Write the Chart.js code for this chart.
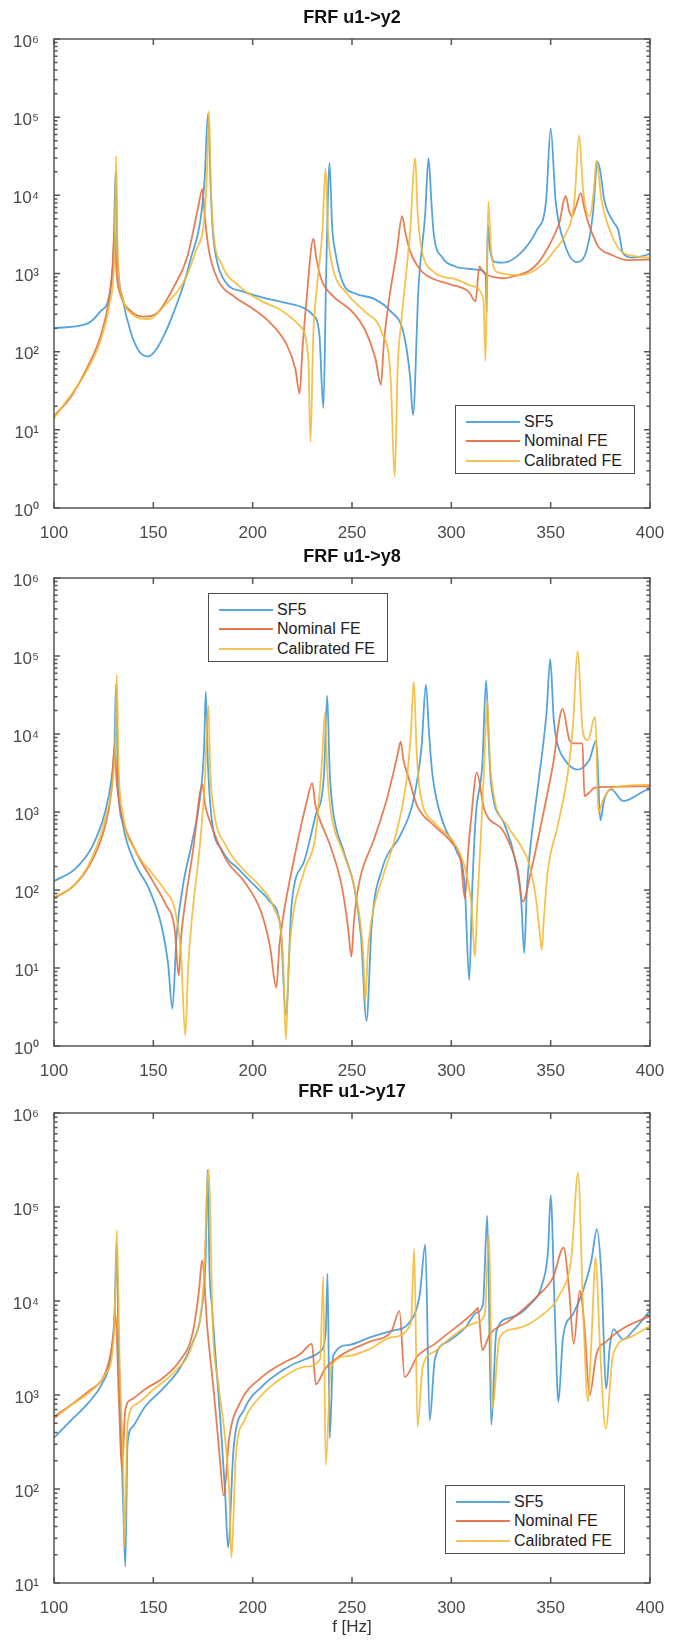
<!DOCTYPE html>
<html>
<head>
<meta charset="utf-8">
<script src="https://cdn.jsdelivr.net/npm/chart.js@4.4.1/dist/chart.umd.min.js"></script>
<style>
  html,body{margin:0;padding:0;background:#fff;}
  body{width:677px;height:1641px;position:relative;overflow:hidden;font-family:"Liberation Sans",Arial,Helvetica,sans-serif;}
  canvas{position:absolute;left:0;}
  .leg{position:absolute;width:178px;height:67px;border:1.5px solid #4d4d4d;background:#fff;z-index:5;}
  .leg .ln{position:absolute;left:10px;width:54px;height:2px;}
  .leg .tx{position:absolute;left:68px;font-size:16px;line-height:18px;color:#222;white-space:nowrap;}
</style>
</head>
<body>
<canvas id="c1" width="677" height="540" style="top:0px"></canvas>
<canvas id="c2" width="677" height="544" style="top:536px"></canvas>
<canvas id="c3" width="677" height="566" style="top:1075px"></canvas>
<script>
// ---------- text ----------
const titles = ['FRF u1->y2', 'FRF u1->y8', 'FRF u1->y17'];
const seriesNames = ['SF5', 'Nominal FE', 'Calibrated FE'];
const xAxisTitle = 'f [Hz]';
const xTickValues = [100, 150, 200, 250, 300, 350, 400];
const xTickLabels = ['100', '150', '200', '250', '300', '350', '400'];
const yTickValuesA = [1, 10, 100, 1000, 10000, 100000, 1000000];
const yTickLabelsA = ['10\u2070', '10\u00B9', '10\u00B2', '10\u00B3', '10\u2074', '10\u2075', '10\u2076'];
const yTickValuesB = [10, 100, 1000, 10000, 100000, 1000000];
const yTickLabelsB = ['10\u00B9', '10\u00B2', '10\u00B3', '10\u2074', '10\u2075', '10\u2076'];

// ---------- FRF u1->y2 ----------
const y2_f_sf5 = [100,117,123.5,128,130,131,132,134.4,138.7,143,147.5,151.8,156,160.5,165,169,173.6,175.8,177.5,179,180,182,186.6,195,204,215,226,230,233.5,235.6,237,238.7,240,241.5,245.4,252,260.7,269.4,275.9,279.2,280.7,283.5,286.8,288.5,290,291.1,295.5,302,308.6,315,317.3,317.8,318.3,319.5,322,326,334.6,343,347.7,350,352.5,357,363,368,371.2,373.6,375,377,381.5,384,386.5,391,399,400];
const y2_m_sf5 = [200,230,330,550,2000,20000,1600,500,175,100,87,110,175,330,690,1600,4600,16000,110000,10000,3300,1450,760,590,500,430,360,300,175,19,1000,26000,4000,1950,760,550,480,330,175,49,15.5,690,5600,30000,8000,3300,1600,1230,1150,1100,950,320,4200,2000,1400,1380,1800,3600,8500,72000,8500,2400,1400,1950,5600,27000,20000,8700,4600,3600,1800,1600,1750,1800];
const y2_f_nom = [100,108.3,117,123.5,127.9,129.5,130.5,131.5,133.3,138.7,145.3,151.8,160.5,167,172.5,174.7,176,178,182.3,191,199.7,208.4,217,221.5,223.6,225,226.9,230.6,232,234.5,241,249.8,256.3,261.7,264.6,266,268.3,272.6,275.2,277,279.2,284.6,291.1,299.8,308.6,312.2,314.1,316,318.6,322,326,332,339.6,344,348,351,354.3,357.5,359.3,360.5,362.5,365.2,366.8,369,371.5,374,380.5,389,399,400];
const y2_m_nom = [15,26,65,160,500,1250,3700,1000,550,330,280,310,690,1600,6900,12000,5000,1950,850,500,360,240,125,60,29,100,400,2800,1600,850,500,330,195,83,38,125,400,1950,5400,3200,1950,1100,850,720,590,440,1230,1050,950,890,870,930,1100,1400,2000,2800,4400,9800,6300,5400,6900,10700,7100,4400,3000,2200,1740,1480,1510,1510];
const y2_f_cal = [100,117,123.5,127.9,130.5,131.3,132,134.4,138.7,147.5,156,165,171.4,175.8,177,178,179,180.1,184.5,193.2,204,215,223.6,228,229.1,230.5,232.4,235,236.7,238,240,247.6,256.3,265,269.4,271.5,273,274.8,279.2,281.8,283,284.6,291.1,302,310.7,316.2,317.2,318.6,320,322.8,334.6,346.6,352,357,362,364.3,366.3,369.6,371.8,373,375.6,380.5,387,400];
const y2_m_cal = [14,60,140,400,2000,32000,2000,500,310,260,400,760,1950,5600,20000,120000,12600,3700,1300,690,450,330,215,83,7,160,690,3200,22000,3200,1300,550,330,175,49,2.5,63,240,3300,30000,6300,2400,1050,850,690,450,76,8300,2000,1050,950,1350,2000,3000,8700,59000,12000,5400,12000,28000,8700,3200,1800,1600];

// ---------- FRF u1->y8 ----------
const y8_f_sf5 = [100,110.5,119.2,125.7,129,130.5,131.2,132.2,134.5,141,147.6,154.1,157.4,159.6,161.7,165,169.4,173.7,175.5,176.4,177.5,179.2,184.7,193.4,202.1,208.7,214.1,216.7,219.6,226.1,231.6,235.9,237.5,238.8,240.3,245.7,251.2,254.5,257.3,259.9,265.4,274.1,280.7,285,287.2,288.8,290.5,295.9,302.5,306.8,309,310.5,312.3,315.6,317.5,319,319.9,326.5,331.9,335.2,336.7,338,339.6,343.9,347.9,349.8,351.5,353,357,363.5,369.5,373,375,377,380.5,386.5,398,400];
const y8_m_sf5 = [130,185,360,1000,2750,8000,43000,2500,720,215,107,35,11.5,3,26,117,400,1660,6300,35000,4000,890,320,180,107,71,32,2.5,65,240,890,3000,31000,3200,1100,320,107,26,2.1,35,195,490,1350,6800,43000,10000,3000,720,320,107,7,100,890,4100,49000,6300,2450,720,260,71,15.5,100,320,2450,18600,91000,16000,8300,4700,3500,4700,8300,780,1450,1950,1380,1900,1950];
const y8_f_nom = [100,110.5,119.2,125.7,129,130.5,131.5,133.4,141,149.7,156.3,160.7,162.8,164,166.1,170.5,173.3,174.8,176,178.1,186.8,195.6,204.3,208.7,211.9,213.5,215.2,221.7,227.2,230,231.5,233.7,239.2,244.7,247.9,249.7,251,253.4,261,267.6,273,274.5,276,278.5,282.8,291.6,300.3,304.7,306.8,308.5,310.1,312.8,316.5,326.5,333.3,336,340,345,351,356,359.5,362,366,367,369.5,372,380,400];
const y8_m_nom = [78,117,240,660,2000,7100,2500,1100,320,130,65,32,8,25,71,400,1660,2240,1260,810,240,130,52,19,5.6,20,43,320,1350,2350,1260,810,360,117,35,14,40,117,440,1480,5500,8000,4500,2750,1200,660,400,240,78,320,890,3200,1100,550,190,71,170,660,3800,21000,8300,7600,7600,1600,1780,2040,2100,2140];
const y8_f_cal = [100,110.5,119.2,125.7,129.7,131,131.6,132.5,134.5,141,149.7,156.3,160.7,163.9,166.1,167.5,169.4,173.7,175.9,177.7,178.7,180.3,186.8,195.6,204.3,210.8,215.2,216.7,218,219.1,226.1,231.6,234.8,236.4,237.6,239.2,245.7,251.2,255.6,256.7,258,259.9,265.4,271.9,277.4,279.6,281.1,282.5,284,291.6,300.3,306.8,310.1,311.9,313,314.5,316.6,318,319.8,328.3,335,339.3,342.6,344.4,345.5,346.5,348.5,353.5,358.7,361.3,363.5,366.3,368.8,371.5,372.5,374,376.5,381,400];
const y8_m_cal = [80,117,260,810,2750,10000,58000,4000,1000,320,160,95,58,15.5,1.35,10,43,440,2450,23000,3200,1100,360,180,107,58,15.5,1.2,10,26,180,490,4100,18600,3200,1100,295,107,15.5,3.7,16,43,145,490,2450,10000,47000,6300,2000,720,440,195,65,14,63,320,4100,27000,3200,660,370,210,78,30,17,40,170,660,3200,13500,115000,10200,8300,15000,16600,980,1450,2040,2240];

// ---------- FRF u1->y17 ----------
const y17_f_sf5 = [100,108.7,117.4,124,128.3,130.5,131.5,132.5,134.9,135.9,137,139.2,145.8,154.5,163.2,169.7,174.1,176.3,177.3,178.3,179.5,181.7,183.9,186.1,187.6,190.4,195.9,204.6,215.5,226.4,234,236.8,237.7,238.8,240.5,248.1,259,269.9,278.6,284.1,286.9,289.1,291.7,298.3,307,312.6,315.9,318.1,320.1,322.7,329.4,339.4,346.1,348.7,350,352,353.9,356.2,361.2,366.3,370.5,373.3,375.5,378,379.7,381.7,386.4,391.4,400];
const y17_m_sf5 = [350,540,830,1300,2400,7600,40000,3200,60,15,300,450,750,1150,1900,3600,7600,28000,250000,20000,8900,2000,490,93,24,270,710,1230,1860,2400,2900,4800,19500,350,2600,3400,4100,4800,5800,11700,40000,540,2400,3700,5200,7500,9100,81000,480,4800,6600,9100,16000,35000,133000,8500,850,4100,7200,12900,27000,58000,19500,1170,3200,5000,3900,4800,7900];
const y17_f_nom = [100,108.7,117.4,124.9,128.3,130.1,130.9,132.7,134.2,135.9,139.2,145.8,154.5,163.2,169.7,173,174.5,177.3,180.6,183.4,185.4,188.2,193.7,204.6,215.5,224.2,228.5,229.8,231.8,236.2,243.8,259,269.9,273.9,276.5,283,291.7,295.8,312.6,313.4,315.6,319.3,329.4,342.8,351.2,356.5,359.2,361.6,364.6,367.1,369.6,373,378,386.4,400];
const y17_m_nom = [590,790,1100,1550,2600,4800,7600,830,160,700,900,1150,1500,2300,4500,13000,27000,4800,1000,220,85,350,830,1550,2200,2750,3400,3500,1300,1860,2600,3700,4800,7800,1550,2600,3500,4100,8100,8500,3000,4400,6200,11000,17800,37000,13800,3500,12900,5100,1000,2700,3700,5100,6900];
const y17_f_cal = [100,108.7,117.4,126.1,129.9,131,131.6,133.1,134.9,135.5,137,141.4,150.1,161,169.7,175.2,177.8,180,182.8,186.1,188.2,189.3,191.5,195.9,204.6,215.5,226.4,234,235.5,236.8,239.4,248.1,259,269.9,279.7,281.3,283,285.6,291.7,295.8,312.6,316.8,319,320.6,324.3,332.7,346.1,354.5,360.4,363.8,366.3,368.8,370.5,372.7,374.7,377.7,381.4,389.8,400];
const y17_m_cal = [560,780,1050,1700,3700,16000,56000,2000,145,24,500,800,1150,1800,3500,14000,250000,4800,1300,350,93,18.6,220,540,1000,1550,2000,2400,18200,180,2000,2600,3100,4100,5800,36000,460,2000,2900,3500,5900,7200,50000,720,4100,5100,7200,11700,29000,230000,8500,850,3700,29000,3700,440,2700,4100,5400];

// ---------- style ----------
const colors = ['rgba(62,150,214,0.88)', 'rgba(228,108,62,0.88)', 'rgba(242,186,52,0.88)'];
const legendColors = ['#5aa6dc', '#e8784c', '#f4c45a'];
const FONT = '"Liberation Sans", Arial, Helvetica, sans-serif';
const AXIS_COLOR = '#555';

const panels = [
  { id: 'c1', title: titles[0], yVals: yTickValuesA, yLabs: yTickLabelsA,
    series: [[y2_f_sf5, y2_m_sf5], [y2_f_nom, y2_m_nom], [y2_f_cal, y2_m_cal]],
    titlePad: {top: 7.2, bottom: 10.2}, xH: 32, xTitle: false,
    legend: {left: 455, top: 405} },
  { id: 'c2', title: titles[1], yVals: yTickValuesA, yLabs: yTickLabelsA,
    series: [[y8_f_sf5, y8_m_sf5], [y8_f_nom, y8_m_nom], [y8_f_cal, y8_m_cal]],
    titlePad: {top: 10.2, bottom: 10.2}, xH: 34, xTitle: false,
    legend: {left: 208, top: 593} },
  { id: 'c3', title: titles[2], yVals: yTickValuesB, yLabs: yTickLabelsB,
    series: [[y17_f_sf5, y17_m_sf5], [y17_f_nom, y17_m_nom], [y17_f_cal, y17_m_cal]],
    titlePad: {top: 6.2, bottom: 10.2}, xH: 58, xTitle: true,
    legend: {left: 445, top: 1485} }
];

const matlabAxes = {
  id: 'matlabAxes',
  afterDraw(chart) {
    const {ctx, chartArea: a, scales: {x, y}} = chart;
    ctx.save();
    ctx.strokeStyle = AXIS_COLOR;
    ctx.lineWidth = 1.5;
    ctx.strokeRect(a.left, a.top, a.right - a.left, a.bottom - a.top);
    ctx.beginPath();
    x.ticks.forEach(t => {
      const px = x.getPixelForValue(t.value);
      ctx.moveTo(px, a.bottom); ctx.lineTo(px, a.bottom - 6);
      ctx.moveTo(px, a.top); ctx.lineTo(px, a.top + 6);
    });
    y.ticks.forEach(t => {
      const py = y.getPixelForValue(t.value);
      const len = t.major ? 6 : 3.5;
      ctx.moveTo(a.left, py); ctx.lineTo(a.left + len, py);
      ctx.moveTo(a.right, py); ctx.lineTo(a.right - len, py);
    });
    ctx.stroke();
    ctx.restore();
  }
};

function buildLegend(pos) {
  const box = document.createElement('div');
  box.className = 'leg';
  box.style.left = pos.left + 'px';
  box.style.top = pos.top + 'px';
  const rowY = [15.5, 35, 54.5];
  seriesNames.forEach((name, i) => {
    const ln = document.createElement('div');
    ln.className = 'ln';
    ln.style.top = (rowY[i] - 1) + 'px';
    ln.style.background = legendColors[i];
    const tx = document.createElement('div');
    tx.className = 'tx';
    tx.style.top = (rowY[i] - 9) + 'px';
    tx.textContent = name;
    box.appendChild(ln);
    box.appendChild(tx);
  });
  document.body.appendChild(box);
}

panels.forEach(p => {
  const datasets = p.series.map((s, i) => ({
    label: seriesNames[i],
    data: s[0].map((f, k) => ({x: f, y: s[1][k]})),
    borderColor: colors[i],
    backgroundColor: colors[i],
    borderWidth: 1.8,
    pointRadius: 0,
    fill: false,
    cubicInterpolationMode: 'monotone',
    order: 2 - i
  }));
  new Chart(document.getElementById(p.id), {
    type: 'line',
    data: {datasets},
    plugins: [matlabAxes],
    options: {
      responsive: false,
      animation: false,
      devicePixelRatio: 1,
      layout: {padding: {left: 0, right: 27, top: 0, bottom: 0}},
      plugins: {
        legend: {display: false},
        tooltip: {enabled: false},
        title: {
          display: true, text: p.title, fullSize: false,
          color: '#111', font: {family: FONT, size: 18, weight: 'bold', lineHeight: 1.2},
          padding: p.titlePad
        }
      },
      scales: {
        x: {
          type: 'linear', min: 100, max: 400,
          grid: {display: false},
          border: {display: false},
          afterBuildTicks: s => { s.ticks = xTickValues.map(v => ({value: v})); },
          afterFit: s => { s.height = p.xH; },
          ticks: {
            autoSkip: false, maxRotation: 0, padding: 7,
            color: '#4a4a4a', font: {family: FONT, size: 17},
            callback: v => { const i = xTickValues.indexOf(v); return i >= 0 ? xTickLabels[i] : ''; }
          },
          title: {
            display: p.xTitle, text: xAxisTitle, color: '#333',
            font: {family: FONT, size: 17}, padding: {top: 0, bottom: 3.8}
          }
        },
        y: {
          type: 'logarithmic', min: p.yVals[0], max: p.yVals[p.yVals.length - 1],
          grid: {display: false},
          border: {display: false},
          afterBuildTicks: s => {
            const t = [];
            for (let i = 0; i < p.yVals.length; i++) {
              const d = p.yVals[i];
              t.push({value: d, major: true});
              if (i < p.yVals.length - 1) for (let k = 2; k <= 9; k++) t.push({value: k * d, major: false});
            }
            s.ticks = t;
          },
          afterFit: s => { s.width = 54; },
          ticks: {
            autoSkip: false, padding: 7, labelOffset: 3,
            color: '#4a4a4a', font: {family: FONT, size: 17},
            callback: v => { const i = p.yVals.indexOf(v); return i >= 0 ? p.yLabs[i] : ''; }
          }
        }
      }
    }
  });
  buildLegend(p.legend);
});
</script>
</body>
</html>
